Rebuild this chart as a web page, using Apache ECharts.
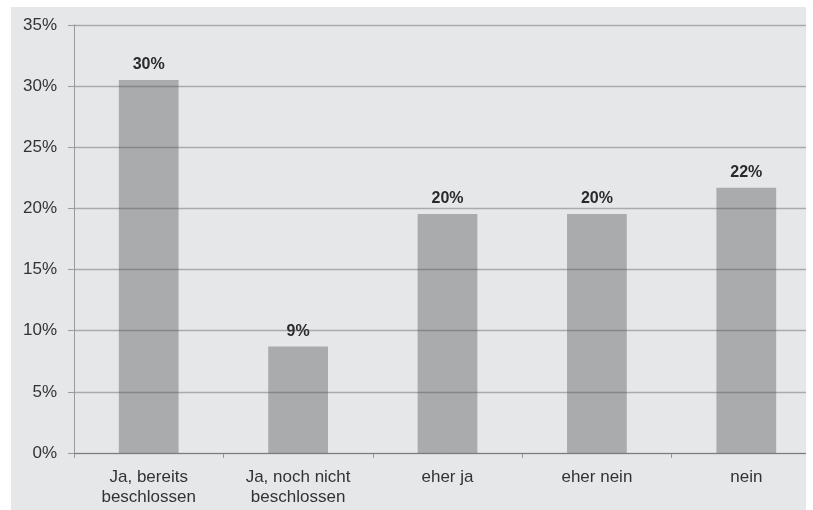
<!DOCTYPE html>
<html>
<head>
<meta charset="utf-8">
<script src="https://cdn.jsdelivr.net/npm/echarts@6/dist/echarts.min.js"></script>
<style>html,body{margin:0;padding:0;background:#fff;}#c{width:813px;height:510px;}</style>
</head>
<body>
<div id="c"></div>
<script>
var categories = ['Ja, bereits\nbeschlossen', 'Ja, noch nicht\nbeschlossen', 'eher ja', 'eher nein', 'nein'];
var values = [30.5, 8.7, 19.55, 19.55, 21.7];
var valueLabels = ['30%', '9%', '20%', '20%', '22%'];
var yMin = 0, yMax = 35, yStep = 5;

var chart = echarts.init(document.getElementById('c'), null, {renderer: 'canvas'});
var font = 'Liberation Sans, Arial, sans-serif';
chart.setOption({
  backgroundColor: '#ffffff',
  animation: false,
  graphic: [
    {type: 'rect', z: -10, shape: {x: 11, y: 7, width: 795, height: 503}, style: {fill: '#e6e7e9'}, silent: true},
    {type: 'rect', z: 100, zlevel: 1, shape: {x: 806, y: 0, width: 20, height: 510}, style: {fill: '#ffffff'}, silent: true}
  ],
  grid: {left: 74, top: 25, height: 428, width: 747, containLabel: false, outerBoundsMode: 'none'},
  xAxis: {
    type: 'category',
    data: categories,
    axisLine: {lineStyle: {color: '#9a9a9a', width: 1}},
    axisTick: {show: true, length: 5, lineStyle: {color: '#9a9a9a'}},
    axisLabel: {color: '#333', fontSize: 17, fontFamily: font, margin: 14, lineHeight: 20, interval: 0}
  },
  yAxis: {
    type: 'value',
    min: yMin, max: yMax, interval: yStep,
    z: 5,
    axisLine: {show: true, lineStyle: {color: '#9a9a9a', width: 1}},
    axisTick: {show: true, length: 6, lineStyle: {color: '#9a9a9a'}},
    splitLine: {show: true, lineStyle: {color: 'rgba(80,80,80,0.4)', width: 1.3}},
    axisLabel: {color: '#333', fontSize: 17, fontFamily: font, margin: 17, formatter: function(v){return v + '%';}}
  },
  series: [{
    type: 'bar',
    data: values,
    barWidth: '40%',
    itemStyle: {color: '#aaabad'},
    label: {
      show: true, position: 'top', distance: 7,
      color: '#2a2a2a', fontSize: 16, fontWeight: 'bold', fontFamily: font,
      formatter: function(p){ return valueLabels[p.dataIndex]; }
    }
  }]
});
</script>
</body>
</html>
